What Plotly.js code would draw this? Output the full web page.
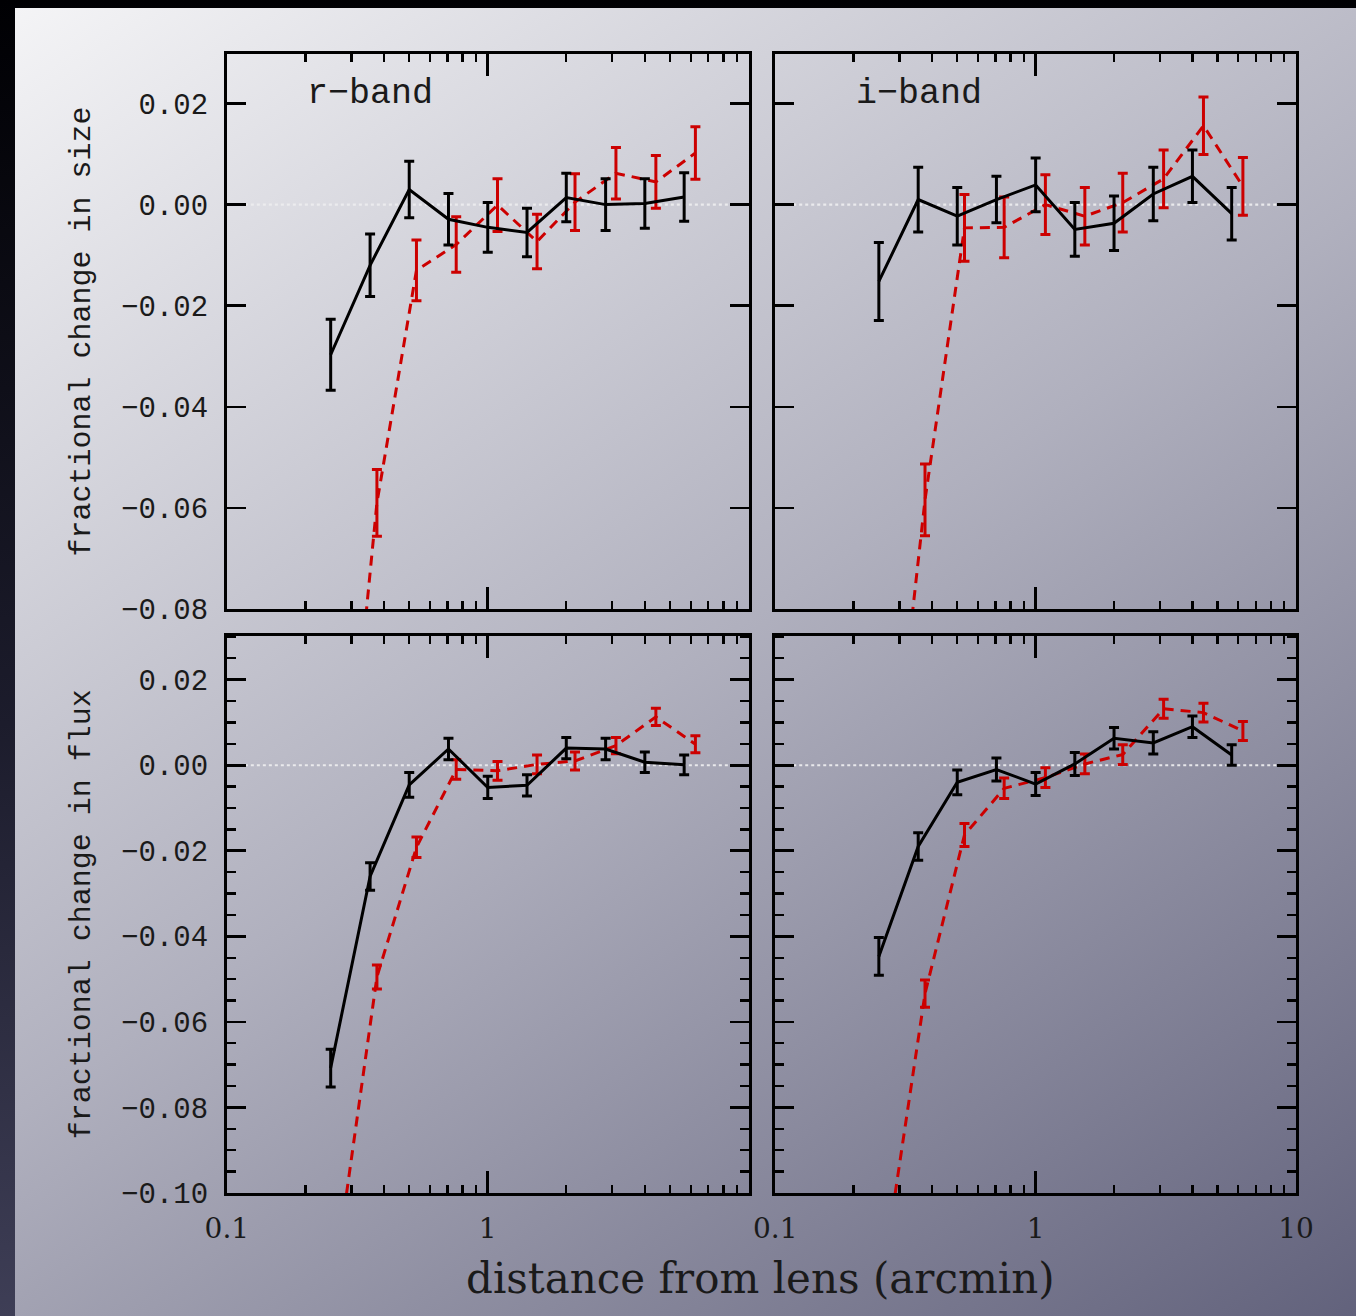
<!DOCTYPE html>
<html>
<head>
<meta charset="utf-8">
<script src="https://cdn.plot.ly/plotly-3.0.1.min.js"></script>
<style>
html,body{margin:0;padding:0;width:1356px;height:1316px;overflow:hidden;
  background:linear-gradient(180deg,#000003 0%,#1c1c2c 55%,#3e3e56 100%);}
#bg{position:absolute;left:15px;top:8px;width:1341px;height:1308px;
  background:linear-gradient(146deg,#f4f4f6 0%,#b0b0be 50%,#62627c 100%);}
#plot{position:absolute;left:0;top:0;width:1356px;height:1316px;}
</style>
</head>
<body>
<div id="bg"></div>
<div id="plot"></div>
<script>
// ---- data ----
// bin centres (arcmin): black = control, red = shifted slightly right
const xBlack = [0.25, 0.354, 0.5, 0.707, 1.0, 1.414, 2.0, 2.83, 4.0, 5.66];
const xRed   = [0.27, 0.376, 0.533, 0.757, 1.09, 1.545, 2.16, 3.10, 4.41, 6.25];

// r-band, fractional change in size
const sizeR_black     = [-0.0297, -0.0120, 0.0030, -0.0029, -0.0045, -0.0055, 0.0014, 0.0000, 0.0002, 0.0015];
const sizeR_blackErr  = [0.0070, 0.0062, 0.0056, 0.0051, 0.0049, 0.0048, 0.0048, 0.0051, 0.0049, 0.0048];
const sizeR_red       = [-0.135, -0.0590, -0.0130, -0.0079, -0.0001, -0.0073, 0.0005, 0.0062, 0.0045, 0.0102];
const sizeR_redErr    = [0.0070, 0.0066, 0.0060, 0.0055, 0.0052, 0.0054, 0.0056, 0.0051, 0.0052, 0.0052];

// i-band, fractional change in size
const sizeI_black     = [-0.0152, 0.0010, -0.0023, 0.0010, 0.0039, -0.0049, -0.0037, 0.0021, 0.0056, -0.0018];
const sizeI_blackErr  = [0.0077, 0.0064, 0.0057, 0.0046, 0.0053, 0.0053, 0.0054, 0.0053, 0.0052, 0.0052];
const sizeI_red       = [-0.125, -0.0584, -0.0046, -0.0045, 0.0000, -0.0023, 0.0004, 0.0051, 0.0156, 0.0036];
const sizeI_redErr    = [0.0075, 0.0071, 0.0066, 0.0060, 0.0059, 0.0057, 0.0058, 0.0057, 0.0057, 0.0057];

// r-band, fractional change in flux
const fluxR_black     = [-0.0708, -0.0260, -0.0046, 0.0038, -0.0052, -0.0047, 0.0040, 0.0038, 0.0007, 0.0001];
const fluxR_blackErr  = [0.0044, 0.0032, 0.0029, 0.0025, 0.0026, 0.0025, 0.0025, 0.0025, 0.0024, 0.0023];
const fluxR_red       = [-0.112, -0.0495, -0.0192, -0.0010, -0.0013, 0.0002, 0.0010, 0.0046, 0.0113, 0.0049];
const fluxR_redErr    = [0.0030, 0.0028, 0.0024, 0.0023, 0.0022, 0.0022, 0.0021, 0.0019, 0.0020, 0.0020];

// i-band, fractional change in flux
const fluxI_black     = [-0.0447, -0.0190, -0.0040, -0.0010, -0.0044, 0.0003, 0.0063, 0.0052, 0.0090, 0.0024];
const fluxI_blackErr  = [0.0044, 0.0032, 0.0029, 0.0027, 0.0027, 0.0027, 0.0025, 0.0026, 0.0025, 0.0024];
const fluxI_red       = [-0.112, -0.0534, -0.0163, -0.0054, -0.0029, 0.0003, 0.0025, 0.0132, 0.0123, 0.0080];
const fluxI_redErr    = [0.0035, 0.0032, 0.0027, 0.0024, 0.0023, 0.0023, 0.0023, 0.0022, 0.0022, 0.0022];

// tick labels
const xTickVals = [0.1, 1, 10];
const xTickTextLeft  = ['0.1', '1', ''];
const xTickTextRight = ['0.1', '1', '10'];
const xMinorVals = [0.2,0.3,0.4,0.5,0.6,0.7,0.8,0.9,2,3,4,5,6,7,8,9];
const ySizeTickVals = [0.02, 0.00, -0.02, -0.04, -0.06, -0.08];
const ySizeTickText = ['0.02', '0.00', '\u22120.02', '\u22120.04', '\u22120.06', '\u22120.08'];
const yFluxTickVals = [0.02, 0.00, -0.02, -0.04, -0.06, -0.08, -0.10];
const yFluxTickText = ['0.02', '0.00', '\u22120.02', '\u22120.04', '\u22120.06', '\u22120.08', '\u22120.10'];
const bandLabels = ['r\u2212band', 'i\u2212band'];
const yTitles = ['fractional change in size', 'fractional change in flux'];
const xTitle = 'distance from lens (arcmin)';

// ---- styling ----
const RED = '#cc0000';
const BLACK = '#000000';

function series(x, y, e, color, dash, xa, ya) {
  return {
    x: x, y: y, xaxis: xa, yaxis: ya, type: 'scatter', mode: 'lines',
    line: {color: color, width: 3, dash: dash},
    error_y: {type: 'data', array: e, visible: true, color: color, thickness: 3, width: 5},
    hoverinfo: 'skip', showlegend: false, cliponaxis: true
  };
}
const DASH = '10px,7px';
const data = [
  series(xRed,   sizeR_red,   sizeR_redErr,   RED,   DASH,    'x',  'y'),
  series(xBlack, sizeR_black, sizeR_blackErr, BLACK, 'solid', 'x',  'y'),
  series(xRed,   sizeI_red,   sizeI_redErr,   RED,   DASH,    'x2', 'y2'),
  series(xBlack, sizeI_black, sizeI_blackErr, BLACK, 'solid', 'x2', 'y2'),
  series(xRed,   fluxR_red,   fluxR_redErr,   RED,   DASH,    'x3', 'y3'),
  series(xBlack, fluxR_black, fluxR_blackErr, BLACK, 'solid', 'x3', 'y3'),
  series(xRed,   fluxI_red,   fluxI_redErr,   RED,   DASH,    'x4', 'y4'),
  series(xBlack, fluxI_black, fluxI_blackErr, BLACK, 'solid', 'x4', 'y4')
];

const TXT = '#1a1a1a';
function xAxis(domain, anchor, showLabels, ticktext) {
  return {
    type: 'log', range: [-1, 1], domain: domain, anchor: anchor,
    tickmode: 'array', tickvals: xTickVals, ticktext: ticktext,
    showticklabels: showLabels,
    ticks: 'inside', ticklen: 22, tickwidth: 2.6, tickcolor: BLACK,
    minor: {tickmode: 'array', tickvals: xMinorVals, ticks: 'inside', ticklen: 8, tickwidth: 2.4, tickcolor: BLACK, showgrid: false},
    showline: true, linewidth: 3, linecolor: BLACK, mirror: 'ticks',
    showgrid: false, zeroline: false,
    tickfont: {family: 'DejaVu Serif', size: 28, color: TXT},
    ticklabelstandoff: 8, fixedrange: true
  };
}
function yAxis(domain, anchor, range, tv, tt, showLabels, title, minor) {
  const ax = {
    range: range, domain: domain, anchor: anchor,
    tickmode: 'array', tickvals: tv, ticktext: tt,
    showticklabels: showLabels,
    ticks: 'inside', ticklen: 19, tickwidth: 2.6, tickcolor: BLACK,
    showline: true, linewidth: 3, linecolor: BLACK, mirror: 'ticks',
    showgrid: false, zeroline: false,
    tickfont: {family: 'Liberation Mono', size: 29, color: TXT},
    ticklabelstandoff: 10, fixedrange: true
  };
  if (minor) ax.minor = {dtick: 0.005, tick0: 0, ticks: 'inside', ticklen: 9, tickwidth: 2.4, tickcolor: BLACK, showgrid: false};
  if (title) ax.title = {text: title, font: {family: 'Liberation Mono', size: 30, color: TXT}, standoff: 22};
  return ax;
}

const xL = [0.1673, 0.5521], xR = [0.5717, 0.9558];
const yT = [0.5372, 0.9590], yB = [0.0935, 0.5170];
const sizeRange = [-0.08, 0.0298], fluxRange = [-0.10, 0.0303];

function zeroLine(xr, yr) {
  return {type: 'line', xref: xr + ' domain', yref: yr, x0: 0, x1: 1, y0: 0, y1: 0,
          line: {color: 'rgba(236,236,238,0.95)', width: 2.2, dash: 'dot'}, layer: 'below'};
}

const layout = {
  width: 1356, height: 1316, autosize: false,
  margin: {l: 0, r: 0, t: 0, b: 0, pad: 0},
  paper_bgcolor: 'rgba(0,0,0,0)', plot_bgcolor: 'rgba(0,0,0,0)',
  showlegend: false,
  xaxis:  xAxis(xL, 'y',  false, xTickTextLeft),
  xaxis2: xAxis(xR, 'y2', false, xTickTextRight),
  xaxis3: xAxis(xL, 'y3', true,  xTickTextLeft),
  xaxis4: xAxis(xR, 'y4', true,  xTickTextRight),
  yaxis:  yAxis(yT, 'x',  sizeRange, ySizeTickVals, ySizeTickText, true,  yTitles[0], false),
  yaxis2: yAxis(yT, 'x2', sizeRange, ySizeTickVals, ySizeTickText, false, null, false),
  yaxis3: yAxis(yB, 'x3', fluxRange, yFluxTickVals, yFluxTickText, true,  yTitles[1], true),
  yaxis4: yAxis(yB, 'x4', fluxRange, yFluxTickVals, yFluxTickText, false, null, true),
  shapes: [zeroLine('x','y'), zeroLine('x2','y2'), zeroLine('x3','y3'), zeroLine('x4','y4')],
  annotations: [
    {text: bandLabels[0], xref: 'x', yref: 'y', x: Math.log10(0.2), y: 0.0218, xanchor: 'left', yanchor: 'middle',
     showarrow: false, font: {family: 'Liberation Mono', size: 35, color: TXT}},
    {text: bandLabels[1], xref: 'x2', yref: 'y2', x: Math.log10(0.2), y: 0.0218, xanchor: 'left', yanchor: 'middle',
     showarrow: false, font: {family: 'Liberation Mono', size: 35, color: TXT}},
    {text: xTitle, xref: 'paper', yref: 'paper', x: 760/1356, y: 1 - 1278/1316, xanchor: 'center', yanchor: 'middle',
     showarrow: false, font: {family: 'DejaVu Serif', size: 42, color: TXT}}
  ]
};

Plotly.newPlot('plot', data, layout, {staticPlot: true, displayModeBar: false});
</script>
</body>
</html>
